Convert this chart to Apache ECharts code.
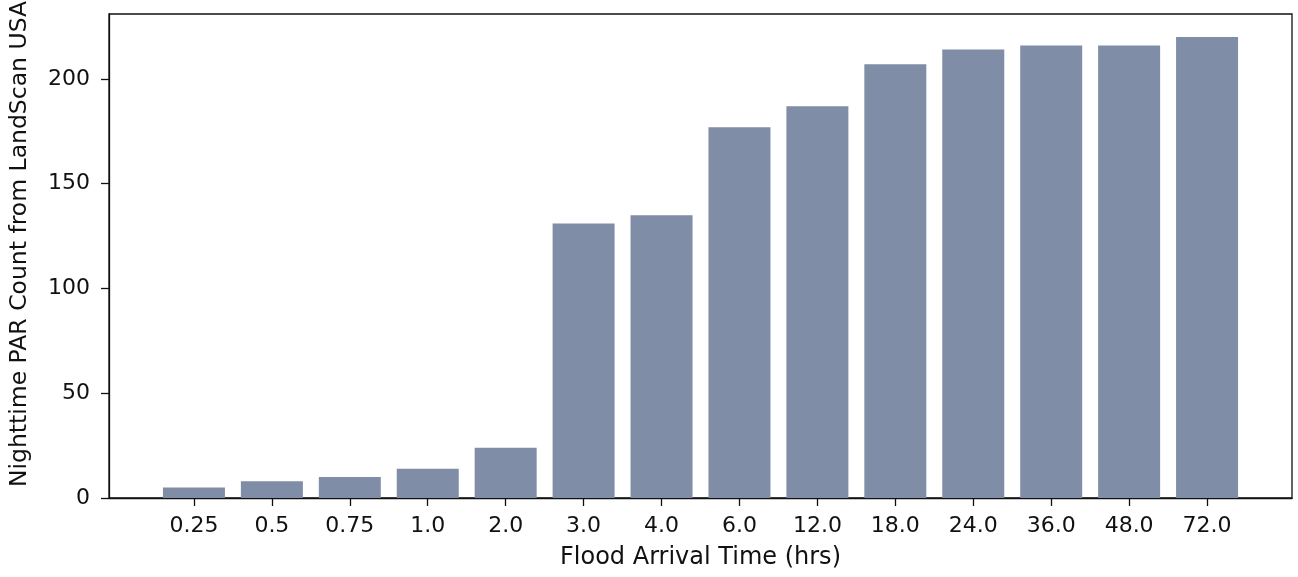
<!DOCTYPE html>
<html>
<head>
<meta charset="utf-8">
<title>Nighttime PAR Count by Flood Arrival Time</title>
<script src="https://cdn.jsdelivr.net/npm/echarts@6/dist/echarts.min.js"></script>
<style>
  html, body { margin: 0; padding: 0; background: #fff; }
  #chart { width: 1298px; height: 577px; }
</style>
</head>
<body>
<div id="chart"></div>
<script>
// Flood arrival time bins (hours) and nighttime population-at-risk counts
const arrivalTimes = ['0.25', '0.5', '0.75', '1.0', '2.0', '3.0', '4.0', '6.0', '12.0', '18.0', '24.0', '36.0', '48.0', '72.0'];
const parCounts = [5, 8, 10, 14, 24, 131, 135, 177, 187, 207, 214, 216, 216, 220];
const yTicks = [0, 50, 100, 150, 200];

const xTickPositions = arrivalTimes.map((_, i) => i);
const barData = parCounts.map((v, i) => [i, v]);
const yMax = Math.max(...parCounts) * 1.05;

const FONT = 'DejaVu Sans';
const INK = '#111';
const chart = echarts.init(document.getElementById('chart'), null, { renderer: 'canvas' });

chart.setOption({
  animation: false,
  backgroundColor: '#ffffff',
  grid: {
    left: 109, right: 6, top: 14, bottom: 79,
    outerBoundsMode: 'none',
    containLabel: false,
    show: true, borderColor: INK, borderWidth: 1.3,
    backgroundColor: 'transparent'
  },
  xAxis: {
    type: 'value',
    min: -1.09,
    max: arrivalTimes.length - 1 + 1.09,
    name: 'Flood Arrival Time (hrs)',
    nameLocation: 'middle',
    nameGap: 48,
    nameTextStyle: { fontFamily: FONT, fontSize: 24, color: INK },
    axisLine: { show: true, onZero: false, lineStyle: { color: INK, width: 1.3 } },
    axisTick: { show: true, inside: false, length: 8, customValues: xTickPositions, lineStyle: { color: INK, width: 1.3 } },
    axisLabel: {
      customValues: xTickPositions,
      formatter: v => arrivalTimes[Math.round(v)] || '',
      fontFamily: FONT, fontSize: 22, color: INK, margin: 17
    },
    splitLine: { show: false }
  },
  yAxis: {
    type: 'value',
    min: 0,
    max: yMax,
    name: 'Nighttime PAR Count from LandScan USA',
    nameLocation: 'middle',
    nameGap: 77,
    nameTextStyle: { fontFamily: FONT, fontSize: 23.5, color: INK, padding: [0, 0, 0, 24] },
    axisLine: { show: true, onZero: false, lineStyle: { color: INK, width: 1.3 } },
    axisTick: { show: true, inside: false, length: 8, customValues: yTicks, lineStyle: { color: INK, width: 1.3 } },
    axisLabel: { customValues: yTicks, fontFamily: FONT, fontSize: 22, color: INK, margin: 19 },
    splitLine: { show: false }
  },
  series: [{
    type: 'bar',
    data: barData,
    barWidth: 62,
    itemStyle: { color: '#808da6' },
    emphasis: { disabled: true }
  }]
});
</script>
</body>
</html>
